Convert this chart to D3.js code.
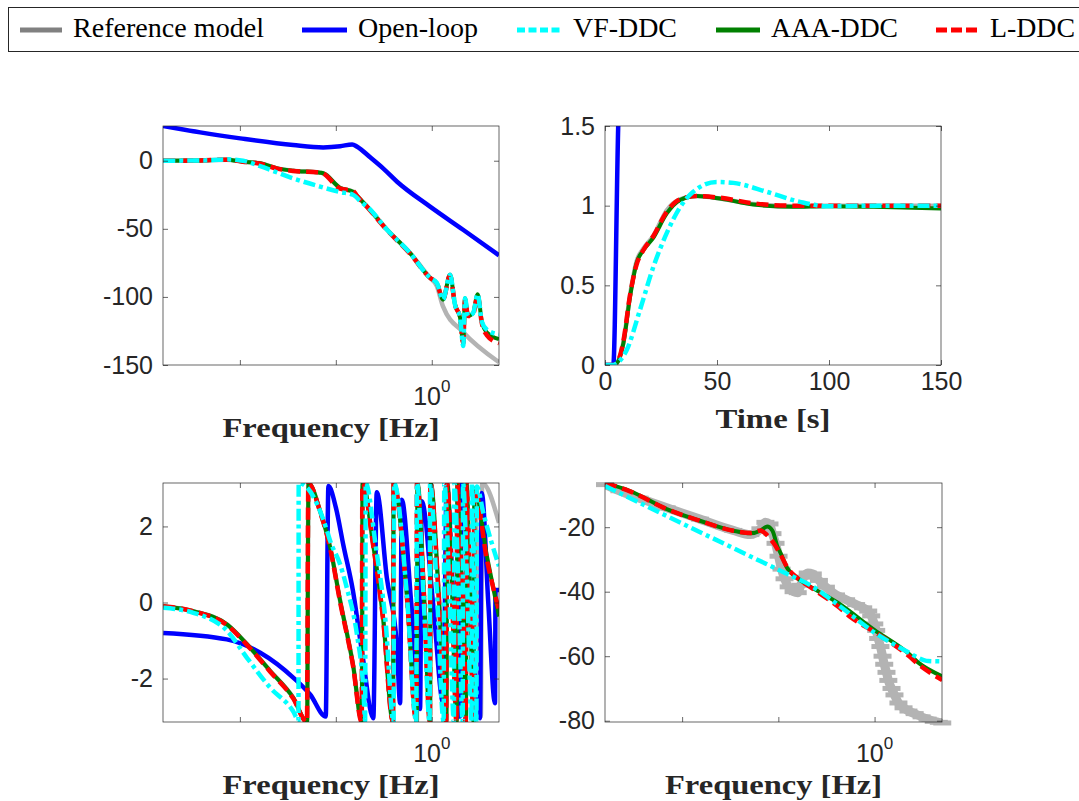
<!DOCTYPE html>
<html>
<head>
<meta charset="utf-8">
<script src="https://cdn.jsdelivr.net/npm/d3@7"></script>
<style>
  body { margin: 0; background: #fff; }
</style>
</head>
<body>
<div id="chart"></div>
<script>
// ---- data ----
// top-left: magnitude [dB] vs frequency [Hz]
const magRef = [[0.00159,0],[0.00386,0.2],[0.0073,0.8],[0.0108,-0.7],[0.0163,-1.9],[0.0245,-5.6],[0.0359,-7.3],[0.0686,-8.8],[0.0738,-9.2],[0.111,-20],[0.151,-22.7],[0.167,-26],[0.212,-33.7],[0.342,-50.7],[0.594,-67.8],[0.96,-86],[1.13,-92],[1.31,-107],[2.13,-126],[5.02,-148]];
const magOpen = [[0.00159,25.5],[0.00386,20.8],[0.0101,16.4],[0.0359,11.5],[0.0738,9.8],[0.111,10.6],[0.148,12.0],[0.167,10.3],[0.228,2.5],[0.311,-5.6],[0.435,-15.4],[0.96,-33.7],[2.12,-50.7],[5.02,-69.5]];
const magVF = [[0.00159,0],[0.0049,0.3],[0.0073,1.0],[0.0108,0],[0.0163,-4],[0.0359,-13],[0.0686,-19],[0.111,-23],[0.151,-25],[0.188,-31],[0.212,-33.7],[0.342,-50.7],[0.594,-67.8],[0.96,-86],[1.13,-89.8],[1.31,-102],[1.55,-83.7],[1.75,-106],[1.97,-115],[2.13,-136],[2.22,-101],[2.39,-114],[2.69,-112],[3.01,-98],[3.32,-118],[3.74,-124],[5.02,-127.6]];
const magAAA = [[0.00159,0],[0.00386,0.2],[0.0073,0.8],[0.0108,-0.7],[0.0163,-1.9],[0.0245,-5.6],[0.0359,-7.3],[0.0686,-8.8],[0.0738,-9.2],[0.111,-20],[0.151,-22.7],[0.167,-26],[0.212,-33.7],[0.342,-50.7],[0.594,-67.8],[0.96,-86],[1.13,-89.8],[1.31,-102],[1.55,-83.7],[1.75,-106],[1.97,-115],[2.13,-134],[2.22,-101],[2.39,-114],[2.69,-112],[3.01,-98],[3.32,-118],[3.74,-126],[5.02,-131]];
const magLDDC = [[0.00159,0],[0.00386,0.2],[0.0073,0.8],[0.0108,-0.7],[0.0163,-2.2],[0.0245,-5.8],[0.0359,-7.5],[0.0686,-8.6],[0.0738,-9.4],[0.111,-20.5],[0.151,-22.2],[0.167,-26],[0.212,-34],[0.342,-51],[0.594,-68.3],[0.96,-86],[1.13,-89.8],[1.31,-102],[1.55,-84],[1.75,-106],[1.97,-115],[2.13,-134],[2.22,-102],[2.39,-114],[2.69,-113],[3.01,-99],[3.32,-119],[3.74,-128],[5.02,-134]];

// top-right: step response vs time [s]
const stepRef = [[0,0],[3.7,0],[5.2,0.01],[8.2,0.14],[11.2,0.44],[14.1,0.65],[17.1,0.73],[21.6,0.81],[27.5,0.97],[33.5,1.04],[40.9,1.06],[51.3,1.045],[66.2,1.01],[84,0.997],[99,1.0],[120,1.0],[150,1.0]];
const stepOpen = [[0,0],[3.7,0],[5.9,1.5],[6.3,1.7]];
const stepVF = [[0,0],[3.7,0],[5.2,0.01],[9.7,0.094],[15.6,0.345],[21.6,0.616],[27.5,0.826],[33.5,0.99],[39.4,1.087],[49.9,1.149],[57.3,1.143],[72.2,1.087],[87,1.024],[99,0.997],[120,1.0],[150,1.0]];
const stepAAA = [[0,0],[3.7,0],[5.2,0.01],[8.2,0.136],[11.2,0.43],[14.1,0.64],[17.1,0.72],[21.6,0.80],[27.5,0.95],[33.5,1.035],[40.9,1.06],[51.3,1.045],[66.2,1.007],[84,0.993],[99,0.997],[120,0.993],[150,0.982]];
const stepLDDC = [[0,0],[3.7,0],[5.2,0.01],[8.2,0.15],[11.2,0.44],[14.1,0.63],[17.1,0.72],[21.6,0.81],[27.5,0.96],[33.5,1.04],[40.9,1.06],[51.3,1.05],[66.2,1.015],[84,1.0],[99,1.0],[120,1.0],[150,1.0]];

// bottom-left: wrapped phase [rad] vs frequency [Hz]
const phaseRef = [[0.00159,-0.10],[0.00327,-0.23],[0.00738,-0.58],[0.0119,-1.10],[0.0207,-1.80],[0.0359,-2.50],[0.0502,-3.14],[0.0519,3.14],[0.0686,2.40],[0.0873,1.45],[0.111,0.04],[0.151,-1.63],[0.187,-3.14],[0.190,3.14],[0.245,1.53],[0.311,-0.40],[0.395,-3.14],[0.40,3.14],[0.55,0.2],[0.70,-3.14],[0.71,3.14],[0.83,0.2],[0.96,-3.14],[0.975,3.14],[1.17,0.40],[1.42,-3.14],[1.45,3.14],[1.62,0.50],[1.82,-3.14],[1.85,3.14],[2.05,0.40],[2.27,-3.14],[2.30,3.14],[2.50,0.30],[2.74,-3.14],[2.78,3.0],[3.05,0.0],[3.25,-3.0],[3.35,3.14],[5.02,2.09]];
const phaseOpen = [[0.00159,-0.80],[0.0073,-0.97],[0.0163,-1.32],[0.0362,-1.98],[0.054,-2.42],[0.0785,-3.0],[0.0837,3.06],[0.100,2.5],[0.120,1.5],[0.151,0.3],[0.19,-1.4],[0.246,-3.04],[0.267,2.9],[0.34,0.65],[0.432,-1.1],[0.468,-2.65],[0.487,2.7],[0.61,0],[0.755,-2.8],[0.787,2.66],[1.03,0],[1.32,-2.65],[1.43,3.1],[1.67,0.2],[1.97,-3.0],[2.05,3.14],[2.5,0.2],[3.18,-3.04],[3.32,2.88],[3.88,0],[4.56,-2.65],[4.62,0.33],[5.02,0.33]];
const phaseVF = [[0.00159,-0.14],[0.00327,-0.27],[0.00738,-0.75],[0.0119,-1.46],[0.0207,-2.24],[0.0359,-2.86],[0.0408,-3.10],[0.0410,3.14],[0.0503,3.02],[0.0640,2.58],[0.0811,1.88],[0.0873,1.62],[0.111,1.0],[0.130,0.39],[0.166,-0.84],[0.194,-2.32],[0.202,-3.10],[0.205,3.14],[0.26,1.5],[0.33,-0.5],[0.40,-3.14],[0.405,3.14],[0.55,0.2],[0.69,-3.14],[0.70,3.14],[0.82,0.2],[0.95,-3.14],[0.96,3.14],[1.13,0.3],[1.33,-3.14],[1.35,3.14],[1.52,0.4],[1.70,-3.14],[1.72,3.14],[1.90,0.3],[2.10,-3.14],[2.12,3.14],[2.35,0.3],[2.60,-3.14],[2.62,3.14],[2.78,0.3],[2.92,-3.14],[2.95,3.05],[3.45,2.35],[5.02,0.95]];
const phaseAAA = [[0.00159,-0.10],[0.00327,-0.23],[0.00738,-0.58],[0.0119,-1.10],[0.0207,-1.80],[0.0359,-2.50],[0.0502,-3.14],[0.0519,3.14],[0.0686,2.40],[0.0873,1.45],[0.111,0.04],[0.151,-1.63],[0.187,-3.14],[0.190,3.14],[0.245,1.53],[0.311,-0.40],[0.395,-3.14],[0.40,3.14],[0.55,0.2],[0.70,-3.14],[0.71,3.14],[0.83,0.2],[0.96,-3.14],[0.975,3.14],[1.17,0.40],[1.42,-3.14],[1.45,3.14],[1.62,0.50],[1.82,-3.14],[1.85,3.14],[2.05,0.40],[2.27,-3.14],[2.30,3.14],[2.50,0.30],[2.74,-3.14],[2.78,3.0],[3.77,1.2],[5.02,-0.37]];
const phaseLDDC = [[0.00159,-0.10],[0.00327,-0.23],[0.00738,-0.60],[0.0119,-1.12],[0.0207,-1.82],[0.0359,-2.52],[0.0500,-3.14],[0.0517,3.14],[0.0686,2.38],[0.0873,1.42],[0.111,0.0],[0.151,-1.66],[0.186,-3.14],[0.189,3.14],[0.245,1.50],[0.311,-0.45],[0.394,-3.14],[0.40,3.14],[0.55,0.15],[0.69,-3.14],[0.70,3.14],[0.83,0.15],[0.955,-3.14],[0.97,3.14],[1.17,0.35],[1.41,-3.14],[1.44,3.14],[1.62,0.45],[1.81,-3.14],[1.84,3.14],[2.05,0.35],[2.26,-3.14],[2.29,3.14],[2.50,0.25],[2.73,-3.14],[2.77,3.0],[3.77,1.1],[5.02,-0.2]];

// bottom-right: magnitude [dB] vs frequency [Hz]
const ctrlRef = [[0.00158,-6.8],[0.00223,-8.7],[0.00361,-11],[0.00692,-14],[0.0153,-17.5],[0.034,-21],[0.0512,-22.3],[0.0651,-20.5],[0.0734,-18.5],[0.0809,-19],[0.0869,-22],[0.0935,-25],[0.1005,-29],[0.108,-33],[0.116,-36],[0.128,-38.5],[0.144,-40],[0.159,-40.3],[0.171,-38],[0.184,-35.5],[0.202,-34.2],[0.228,-34.5],[0.264,-36.5],[0.312,-38.6],[0.397,-41],[0.506,-42.5],[0.643,-44],[0.762,-45],[0.859,-46],[0.923,-47.5],[0.993,-50],[1.04,-52],[1.09,-54.5],[1.15,-57],[1.21,-60],[1.26,-62.5],[1.33,-65],[1.39,-67.5],[1.50,-70],[1.61,-72],[1.77,-74.5],[2.00,-76],[2.25,-77],[2.61,-77.8],[3.08,-78.8],[3.56,-79.5],[4.12,-80.2],[4.65,-80.5],[5.05,-80.7]];
const ctrlVF = [[0.00158,-7.2],[0.1054,-33.5],[0.124,-34.5],[0.158,-36],[0.201,-37.5],[0.414,-44],[1.0,-52.7],[2.24,-58.8],[2.85,-60.5],[3.6,-61.5],[5.05,-61.6]];
const ctrlAAA = [[0.00158,-6.3],[0.00283,-8.7],[0.00692,-14.4],[0.0153,-18],[0.034,-21.1],[0.0512,-21.9],[0.0651,-21.1],[0.0765,-19.8],[0.0869,-21.1],[0.0973,-25.8],[0.1054,-28],[0.124,-32.7],[0.158,-35.8],[0.201,-37.9],[0.414,-43.4],[1.0,-51.9],[2.24,-59.1],[2.85,-62],[5.05,-66.2]];
const ctrlLDDC = [[0.00158,-6.3],[0.00283,-8.8],[0.00692,-14.4],[0.0153,-18],[0.034,-21.1],[0.0512,-21.8],[0.0651,-21.0],[0.0765,-22.5],[0.0897,-25],[0.1054,-28.5],[0.124,-32.5],[0.158,-35.8],[0.201,-38],[0.414,-44.5],[0.57,-48],[1.0,-52.5],[2.24,-59.8],[2.85,-62.5],[5.05,-67.4]];

// axes ticks
const freqTicks = [0.01, 0.1, 1];
const magTicks = [-150, -100, -50, 0];
const timeTicks = [0, 50, 100, 150];
const stepTicks = [0, 0.5, 1, 1.5];
const phaseTicks = [-2, 0, 2];
const ctrlTicks = [-80, -60, -40, -20];

const legendNames = ["Reference model", "Open-loop", "VF-DDC", "AAA-DDC", "L-DDC"];

// ---- styling ----
const styles = {
  ref:  { color: "#b3b3b3", width: 4.5, dash: null },
  open: { color: "#0000ff", width: 4.5, dash: null },
  vf:   { color: "#00ffff", width: 4.5, dash: "12,4,4,4" },
  aaa:  { color: "#008000", width: 4,   dash: null },
  l:    { color: "#ff0000", width: 4.5, dash: "12,6" }
};
const drawOrder = ["ref", "open", "aaa", "l", "vf"];
const axisColor = "#262626";
const tickFont = "'Liberation Sans', Arial, sans-serif";
const serifFont = "'Liberation Serif', 'Times New Roman', serif";

const svg = d3.select("#chart").append("svg")
  .attr("width", 1079)
  .attr("height", 801);

const freqDomain = [0.00158, 5.02];

const panels = [
  { x: 163, y: 126, w: 336, h: 239, log: true, xDomain: freqDomain, yDomain: [-150, 25.5],
    xTicks: freqTicks, yTicks: magTicks, xlabel: "Frequency [Hz]", labelLen: 217, labelDy: 72,
    data: { ref: magRef, open: magOpen, vf: magVF, aaa: magAAA, l: magLDDC } },
  { x: 605, y: 126, w: 336, h: 239, log: false, xDomain: [0, 150], yDomain: [0, 1.5],
    xTicks: timeTicks, yTicks: stepTicks, xlabel: "Time [s]", labelLen: 115, labelDy: 63,
    data: { ref: stepRef, open: stepOpen, vf: stepVF, aaa: stepAAA, l: stepLDDC } },
  { x: 163, y: 483, w: 336, h: 239, log: true, xDomain: freqDomain, yDomain: [-Math.PI, Math.PI],
    xTicks: freqTicks, yTicks: phaseTicks, xlabel: "Frequency [Hz]", labelLen: 217, labelDy: 72,
    data: { ref: phaseRef, open: phaseOpen, vf: phaseVF, aaa: phaseAAA, l: phaseLDDC } },
  { x: 605, y: 483, w: 337, h: 239, log: true, xDomain: freqDomain, yDomain: [-80.4, -6.3],
    xTicks: freqTicks, yTicks: ctrlTicks, xlabel: "Frequency [Hz]", labelLen: 217, labelDy: 72,
    data: { ref: ctrlRef, vf: ctrlVF, aaa: ctrlAAA, l: ctrlLDDC }, markers: true }
];

panels.forEach((p, i) => {
  const g = svg.append("g").attr("transform", `translate(${p.x},${p.y})`);
  const x = (p.log ? d3.scaleLog() : d3.scaleLinear()).domain(p.xDomain).range([0, p.w]);
  const y = d3.scaleLinear().domain(p.yDomain).range([p.h, 0]);

  g.append("clipPath").attr("id", "clip" + i)
    .append("rect").attr("width", p.w).attr("height", p.h);

  const line = d3.line()
    .x(d => x(d[0]))
    .y(d => y(d[1]))
    .curve(d3.curveMonotoneX);

  const plot = g.append("g").attr("clip-path", `url(#clip${i})`);

  drawOrder.forEach(key => {
    const data = p.data[key];
    if (!data) return;
    const s = styles[key];
    plot.append("path")
      .datum(data)
      .attr("fill", "none")
      .attr("stroke", s.color)
      .attr("stroke-width", key === "ref" && p.markers ? 9 : s.width)
      .attr("stroke-dasharray", s.dash)
      .attr("stroke-linejoin", "round")
      .attr("d", line);
    // measured reference drawn with horizontal bar markers
    if (key === "ref" && p.markers) {
      g.insert("g", ":first-child").selectAll("rect")
        .data(data)
        .enter().append("rect")
        .attr("x", d => x(d[0]) - 9)
        .attr("y", d => y(d[1]) - 2.5)
        .attr("width", 18)
        .attr("height", 5)
        .attr("fill", s.color);
    }
  });

  // axes, ticks inside on all four sides
  const fmt = d => String(d);
  const styleAxis = sel => {
    sel.attr("font-family", tickFont).attr("font-size", 25);
    sel.selectAll("line").attr("stroke", axisColor).attr("stroke-width", 0.7);
    sel.selectAll("path").remove();
    sel.selectAll("text").attr("fill", axisColor);
  };

  g.append("g").attr("transform", `translate(0,${p.h})`)
    .call(d3.axisBottom(x).tickValues(p.xTicks).tickSizeInner(-5).tickSizeOuter(0)
      .tickPadding(7).tickFormat(p.log ? () => "" : fmt))
    .call(styleAxis);
  g.append("g")
    .call(d3.axisTop(x).tickValues(p.xTicks).tickSizeInner(-5).tickSizeOuter(0).tickFormat(() => ""))
    .call(styleAxis);
  g.append("g")
    .call(d3.axisLeft(y).tickValues(p.yTicks).tickSizeInner(-5).tickSizeOuter(0)
      .tickPadding(10).tickFormat(fmt))
    .call(styleAxis);
  g.append("g").attr("transform", `translate(${p.w},0)`)
    .call(d3.axisRight(y).tickValues(p.yTicks).tickSizeInner(-5).tickSizeOuter(0).tickFormat(() => ""))
    .call(styleAxis);

  g.append("rect")
    .attr("width", p.w).attr("height", p.h)
    .attr("fill", "none")
    .attr("stroke", axisColor)
    .attr("stroke-width", 0.7);

  // 10^0 label on log axes
  if (p.log) {
    const t = g.append("text")
      .attr("x", x(1))
      .attr("y", p.h + 40)
      .attr("text-anchor", "middle")
      .attr("font-family", tickFont)
      .attr("fill", axisColor);
    t.append("tspan").attr("font-size", 25).text("10");
    t.append("tspan").attr("font-size", 17).attr("dy", -13).text("0");
  }

  g.append("text")
    .attr("x", p.w / 2)
    .attr("y", p.h + p.labelDy)
    .attr("text-anchor", "middle")
    .attr("font-family", serifFont)
    .attr("font-weight", "bold")
    .attr("font-size", 28)
    .attr("fill", axisColor)
    .attr("textLength", p.labelLen)
    .attr("lengthAdjust", "spacingAndGlyphs")
    .text(p.xlabel);
});

// ---- legend ----
const legendKeys = ["ref", "open", "vf", "aaa", "l"];
const legendPos = [
  { x1: 20,  x2: 62,  tx: 73,  tw: 191 },
  { x1: 302, x2: 347, tx: 358, tw: 120 },
  { x1: 517, x2: 560, tx: 573, tw: 104 },
  { x1: 716, x2: 760, tx: 771, tw: 127 },
  { x1: 936, x2: 978, tx: 990, tw: 85 }
];
const legendDash = { vf: "8,3.5", l: "11,4" };

const legend = svg.append("g");
legend.append("rect")
  .attr("x", 8.5).attr("y", 7.5)
  .attr("width", 1100).attr("height", 44)
  .attr("fill", "#fff")
  .attr("stroke", axisColor)
  .attr("stroke-width", 1);

legendKeys.forEach((key, i) => {
  const pos = legendPos[i];
  const s = styles[key];
  legend.append("line")
    .attr("x1", pos.x1).attr("x2", pos.x2)
    .attr("y1", 30).attr("y2", 30)
    .attr("stroke", key === "ref" ? "#808080" : s.color)
    .attr("stroke-width", 5)
    .attr("stroke-dasharray", legendDash[key] || null);
  legend.append("text")
    .attr("x", pos.tx).attr("y", 37)
    .attr("font-family", serifFont)
    .attr("font-size", 27)
    .attr("fill", "#000")
    .attr("textLength", pos.tw)
    .attr("lengthAdjust", "spacingAndGlyphs")
    .text(legendNames[i]);
});
</script>
</body>
</html>
